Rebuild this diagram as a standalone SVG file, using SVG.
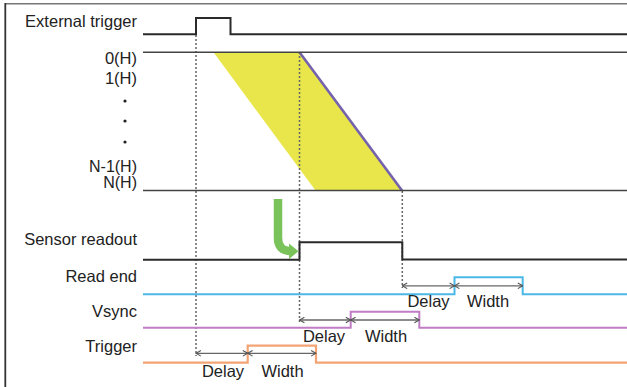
<svg xmlns="http://www.w3.org/2000/svg" width="627" height="387" viewBox="0 0 627 387">
<defs>
<style>
text{font-family:"Liberation Sans",Arial,sans-serif;font-size:16.5px;fill:#222}
.lbl{text-anchor:end}
.mid{text-anchor:middle}
.sig{fill:none;stroke:#2a2a2a;stroke-width:2}
.ref{fill:none;stroke:#444;stroke-width:1.6}
.dot{fill:none;stroke:#666;stroke-width:1.5;stroke-dasharray:2,2}
.dim{fill:none;stroke:#666;stroke-width:1.3;marker-start:url(#ah);marker-end:url(#ah)}
</style>
<marker id="ah" viewBox="0 0 10 10" refX="9" refY="5" markerWidth="7" markerHeight="7" orient="auto-start-reverse" markerUnits="userSpaceOnUse">
<path d="M2,1 L9,5 L2,9" fill="none" stroke="#555" stroke-width="1.5"/>
</marker>
</defs>
<rect width="627" height="387" fill="#fff"/>
<g id="frame">
<line x1="5" y1="3.8" x2="627" y2="3.8" stroke="#777" stroke-width="1.5"/>
<line x1="5.3" y1="3" x2="5.3" y2="387" stroke="#333" stroke-width="1.8"/>
</g>
<g id="labels">
<text class="lbl" x="137" y="26.5">External trigger</text>
<text class="lbl" x="137" y="64">0(H)</text>
<text class="lbl" x="137" y="84">1(H)</text>
<circle cx="125" cy="101" r="1.6" fill="#222"/>
<circle cx="125" cy="121" r="1.6" fill="#222"/>
<circle cx="125" cy="142" r="1.6" fill="#222"/>
<text class="lbl" x="137" y="171.5" style="font-size:16px">N-1(H)</text>
<text class="lbl" x="137" y="188" style="font-size:16px">N(H)</text>
<text class="lbl" x="137" y="245">Sensor readout</text>
<text class="lbl" x="137" y="281.5">Read end</text>
<text class="lbl" x="137" y="316.5">Vsync</text>
<text class="lbl" x="137" y="351.5">Trigger</text>
</g>
<g id="exposure">
<polygon points="213.5,52.3 299.5,52.3 402,190.5 315.5,190.5" fill="#e9e64b"/>
<line x1="299.5" y1="52.3" x2="402" y2="190.5" stroke="#7462ac" stroke-width="2.6"/>
</g>
<g id="connectors">
<line class="dot" x1="196" y1="35" x2="196" y2="356"/>
<line class="dot" x1="299.5" y1="52" x2="299.5" y2="322"/>
<line class="dot" x1="402.3" y1="191" x2="402.3" y2="288"/>
<path d="M278,199 V238 Q278,251 291,251" fill="none" stroke="#7ac35a" stroke-width="8.5"/>
<polygon points="289,243.5 298.5,251.3 289,259" fill="#7ac35a"/>
</g>
<g id="ext-trigger">
<path class="sig" d="M143,34.3 H196 V18 H230.5 V34.3 H627"/>
</g>
<g id="rows">
<line class="ref" x1="143" y1="52.3" x2="627" y2="52.3"/>
<line class="ref" x1="143" y1="190.5" x2="627" y2="190.5"/>
</g>
<g id="sensor-readout">
<path class="sig" d="M143,259.7 H299.5 V242.3 H402.3 V259.5 H627"/>
</g>
<g id="read-end">
<path d="M143,294.3 H454.5 V277.3 H522.7 V294.3 H627" fill="none" stroke="#4bb8e7" stroke-width="2"/>
<line class="dim" x1="402.3" y1="285.8" x2="454.5" y2="285.8"/>
<line class="dim" x1="454.5" y1="285.8" x2="522.7" y2="285.8"/>
<text class="mid" x="428.5" y="306.5">Delay</text>
<text class="mid" x="488" y="306.5">Width</text>
</g>
<g id="vsync">
<path d="M143,327.7 H350.7 V311.7 H419.3 V327.7 H627" fill="none" stroke="#c07dc6" stroke-width="2"/>
<line class="dim" x1="299.5" y1="320" x2="350.7" y2="320"/>
<line class="dim" x1="350.7" y1="320" x2="419.3" y2="320"/>
<text class="mid" x="324" y="342">Delay</text>
<text class="mid" x="386" y="342">Width</text>
</g>
<g id="trigger">
<path d="M143,362.7 H247.7 V345.7 H316 V362.7 H627" fill="none" stroke="#f4a474" stroke-width="2.2"/>
<line class="dim" x1="196" y1="353.3" x2="247.7" y2="353.3"/>
<line class="dim" x1="247.7" y1="353.3" x2="316" y2="353.3"/>
<text class="mid" x="223" y="376.5">Delay</text>
<text class="mid" x="282.5" y="376.5">Width</text>
</g>
</svg>
